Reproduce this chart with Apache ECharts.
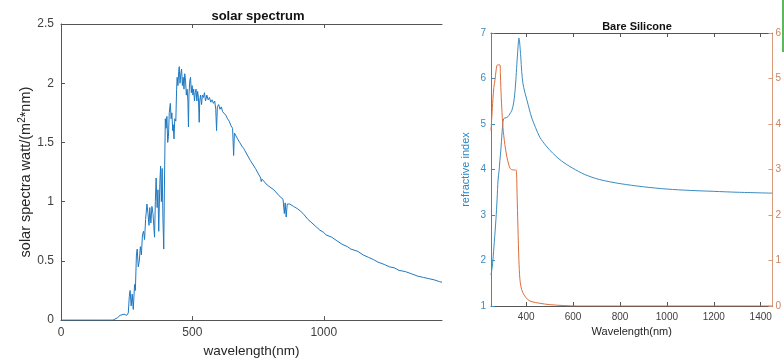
<!DOCTYPE html>
<html>
<head>
<meta charset="utf-8">
<script src="https://cdn.jsdelivr.net/npm/echarts@6/dist/echarts.min.js"></script>
<style>
  html, body {margin: 0; background: #fff;}
  #main {width: 784px; height: 363px;}
</style>
</head>
<body>
<div id="main"></div>
<script>
// solar spectrum
const solarWavelength = [0, 150, 198, 215, 225, 240, 250, 256, 260, 263, 267, 271, 275, 280, 283, 287, 290, 294, 298, 302,
  306, 310, 314, 318, 322, 327, 331, 335, 338, 342, 346, 350, 353, 356, 359, 362, 366, 369, 372, 376,
  379, 382, 385, 388, 391, 394, 397, 400, 403, 406, 409, 412, 416, 419, 422, 425, 427, 430, 433, 437,
  440, 442, 445, 448, 450, 453, 456, 459, 462, 465, 468, 471, 474, 477, 480, 483, 485, 487, 490, 493,
  496, 499, 502, 505, 508, 511, 514, 517, 520, 523, 526, 528, 531, 535, 538, 542, 546, 550, 555, 560,
  565, 570, 575, 580, 585, 589, 592, 595, 600, 605, 610, 615, 620, 627, 634, 640, 647, 653, 657, 660,
  665, 672, 680, 688, 695, 700, 720, 740, 760, 762, 765, 785, 810, 830, 845, 850, 853, 857, 861, 870,
  885, 900, 912, 925, 940, 955, 970, 985, 1000, 1008, 1012, 1030, 1050, 1070, 1090, 1103, 1108, 1130, 1150, 1170,
  1190, 1206, 1210, 1230, 1250, 1270, 1286, 1290, 1310, 1335, 1359, 1380, 1400, 1420, 1440, 1450];
const solarIrradiance = [0, 0, 0, 0.02, 0.04, 0.05, 0.04, 0.06, 0.2, 0.25, 0.12, 0.22, 0.09, 0.3, 0.25, 0.55, 0.6, 0.45, 0.5, 0.62,
  0.55, 0.72, 0.75, 0.68, 0.85, 0.98, 0.9, 0.8, 0.95, 0.82, 0.96, 0.9, 0.8, 0.7, 1.0, 1.2, 0.95, 1.1, 0.75, 1.15,
  1.3, 1.0, 1.28, 0.85, 0.6, 1.2, 1.7, 1.62, 1.72, 1.5, 1.55, 1.75, 1.83, 1.7, 1.75, 1.6, 1.65, 1.53, 1.7, 1.68,
  1.95, 2.05, 1.98, 2.1, 2.14, 2.0, 2.08, 2.12, 1.98, 2.05, 1.95, 2.08, 2.02, 1.9, 1.95, 1.85, 1.63, 1.9, 2.02, 2.05,
  1.92, 1.98, 1.9, 1.95, 1.85, 1.92, 1.95, 1.85, 1.93, 1.88, 1.67, 1.85, 1.9, 1.82, 1.9, 1.88, 1.92, 1.85, 1.9, 1.86,
  1.88, 1.84, 1.86, 1.83, 1.85, 1.78, 1.6, 1.8, 1.82, 1.78, 1.8, 1.76, 1.75, 1.73, 1.7, 1.68, 1.64, 1.62, 1.39, 1.58,
  1.58, 1.53, 1.5, 1.47, 1.45, 1.43, 1.35, 1.28, 1.2, 1.17, 1.19, 1.14, 1.1, 1.05, 1.02, 0.9, 0.99, 0.87, 0.98, 0.98,
  0.96, 0.94, 0.92, 0.89, 0.85, 0.82, 0.79, 0.76, 0.74, 0.72, 0.73, 0.7, 0.67, 0.64, 0.62, 0.6, 0.61, 0.58, 0.55, 0.53,
  0.51, 0.49, 0.5, 0.47, 0.45, 0.44, 0.42, 0.43, 0.41, 0.39, 0.37, 0.36, 0.35, 0.34, 0.325, 0.32];

// bare silicon optical constants (right plot)
const nWavelength = [250, 255, 258, 264, 271, 276, 280, 284, 288, 292, 297, 301, 305, 309, 315, 322, 330, 339, 347, 352,
  356, 360, 364, 367, 369, 372, 377, 381, 386, 394, 403, 413, 424, 440, 458, 485, 513, 550, 598, 650,
  712, 800, 900, 1000, 1100, 1200, 1300, 1450];
const nValues = [1.68, 1.85, 2.0, 2.4, 2.9, 3.35, 3.77, 3.95, 4.2, 4.43, 4.8, 5.05, 5.12, 5.13, 5.14, 5.16, 5.22, 5.3, 5.48, 5.7,
  5.97, 6.3, 6.6, 6.82, 6.89, 6.8, 6.47, 6.15, 5.9, 5.7, 5.53, 5.33, 5.13, 4.92, 4.71, 4.52, 4.36, 4.19, 4.03, 3.89,
  3.78, 3.69, 3.62, 3.57, 3.54, 3.52, 3.5, 3.48];
const kWavelength = [250, 254, 258, 262, 267, 271, 275, 279, 288, 290, 292, 296, 301, 309, 318, 325, 331, 343, 356, 359,
  361, 365, 369, 373, 378, 385, 394, 405, 420, 458, 500, 560, 620, 1450];
const kValues = [3.85, 4.2, 4.53, 4.8, 4.97, 5.15, 5.28, 5.3, 5.3, 5.1, 4.8, 4.35, 3.93, 3.55, 3.27, 3.12, 3.03, 2.99, 2.99, 2.9,
  2.5, 1.7, 1.0, 0.6, 0.42, 0.3, 0.22, 0.15, 0.1, 0.06, 0.03, 0.01, 0, 0];

const solarTicks = [0, 500, 1000];
const siTicks = [400, 600, 800, 1000, 1200, 1400];

const FONT = 'Liberation Sans, Arial, sans-serif';
const GREY = '#404040';
const zip = (xs, ys) => xs.map((x, i) => [x, ys[i]]);
const plain = v => String(v);

const baseX = (grid, min, max, ticks, position, showLabel) => ({
  type: 'value',
  gridIndex: grid,
  position: position,
  min: min,
  max: max,
  axisLine: {show: true, lineStyle: {color: '#555', width: 1}},
  axisTick: {show: true, inside: true, length: 4, customValues: ticks, lineStyle: {color: '#555'}},
  axisLabel: {show: showLabel, customValues: ticks, formatter: plain, color: GREY, fontFamily: FONT},
  splitLine: {show: false}
});

const chart = echarts.init(document.getElementById('main'));
chart.setOption({
  animation: false,
  backgroundColor: '#fff',
  textStyle: {fontFamily: FONT},
  title: [
    {text: 'solar spectrum', left: 253, top: 5, textAlign: 'center',
      textStyle: {fontSize: 13, fontWeight: 'bold', color: '#111', fontFamily: FONT}},
    {text: 'Bare Silicone', left: 632, top: 16, textAlign: 'center',
      textStyle: {fontSize: 11, fontWeight: 'bold', color: '#111', fontFamily: FONT}}
  ],
  grid: [
    {left: 61, right: 342, top: 24, bottom: 39},
    {left: 491, right: 10, top: 33, bottom: 57}
  ],
  xAxis: [
    Object.assign(baseX(0, 0, 1450, solarTicks, 'bottom', true), {
      name: 'wavelength(nm)', nameLocation: 'middle', nameGap: 23,
      nameTextStyle: {fontSize: 13.5, color: '#262626', fontFamily: FONT},
      axisLabel: {show: true, customValues: solarTicks, formatter: plain, color: GREY, fontSize: 12, margin: 7, fontFamily: FONT}
    }),
    baseX(0, 0, 1450, solarTicks, 'top', false),
    Object.assign(baseX(1, 250, 1450, siTicks, 'bottom', true), {
      name: 'Wavelength(nm)', nameLocation: 'middle', nameGap: 20,
      nameTextStyle: {fontSize: 11, color: '#262626', fontFamily: FONT},
      axisLabel: {show: true, customValues: siTicks, formatter: plain, color: GREY, fontSize: 10, margin: 6, fontFamily: FONT}
    }),
    baseX(1, 250, 1450, siTicks, 'top', false)
  ],
  yAxis: [
    {
      type: 'value', gridIndex: 0, min: 0, max: 2.5, interval: 0.5,
      name: 'solar spectra watt/(m{sup|2}*nm)', nameLocation: 'middle', nameGap: 20, nameRotate: 90,
      nameTextStyle: {fontSize: 14.5, color: '#262626', fontFamily: FONT,
        rich: {sup: {fontSize: 10, color: '#262626', fontFamily: FONT, padding: [0, 0, 7, 0]}}},
      axisLine: {show: true, lineStyle: {color: '#555'}},
      axisTick: {show: true, inside: true, length: 4, lineStyle: {color: '#555'}},
      axisLabel: {color: GREY, fontSize: 12, margin: 7, fontFamily: FONT},
      splitLine: {show: false}
    },
    {
      type: 'value', gridIndex: 1, position: 'left', min: 1, max: 7, interval: 1,
      name: 'refractive index', nameLocation: 'middle', nameGap: 20, nameRotate: 90,
      nameTextStyle: {fontSize: 11, color: '#2b86c2', fontFamily: FONT},
      axisLine: {show: true, lineStyle: {color: '#3a8cc0'}},
      axisTick: {show: true, inside: true, length: 4, lineStyle: {color: '#3a8cc0'}},
      axisLabel: {color: '#3a8cc0', fontSize: 10, margin: 5, fontFamily: FONT},
      splitLine: {show: false}
    },
    {
      type: 'value', gridIndex: 1, position: 'right', min: 0, max: 6, interval: 1,
      axisLine: {show: true, lineStyle: {color: '#d99a7c'}},
      axisTick: {show: true, inside: true, length: 4, lineStyle: {color: '#d99a7c'}},
      axisLabel: {color: '#c9835f', fontSize: 10, margin: 3, fontFamily: FONT},
      splitLine: {show: false}
    }
  ],
  series: [
    {type: 'line', xAxisIndex: 0, yAxisIndex: 0, data: zip(solarWavelength, solarIrradiance),
      showSymbol: false, lineStyle: {color: '#1f78c1', width: 1}},
    {type: 'line', xAxisIndex: 2, yAxisIndex: 1, data: zip(nWavelength, nValues), smooth: 0.3,
      showSymbol: false, lineStyle: {color: '#3a8cc0', width: 1}},
    {type: 'line', xAxisIndex: 2, yAxisIndex: 2, data: zip(kWavelength, kValues), smooth: 0.3,
      showSymbol: false, lineStyle: {color: '#dd6d3a', width: 1}}
  ],
  graphic: [
    {type: 'rect', shape: {x: 782, y: 0, width: 2, height: 52}, style: {fill: '#5cb85c'}}
  ]
});
</script>
</body>
</html>
